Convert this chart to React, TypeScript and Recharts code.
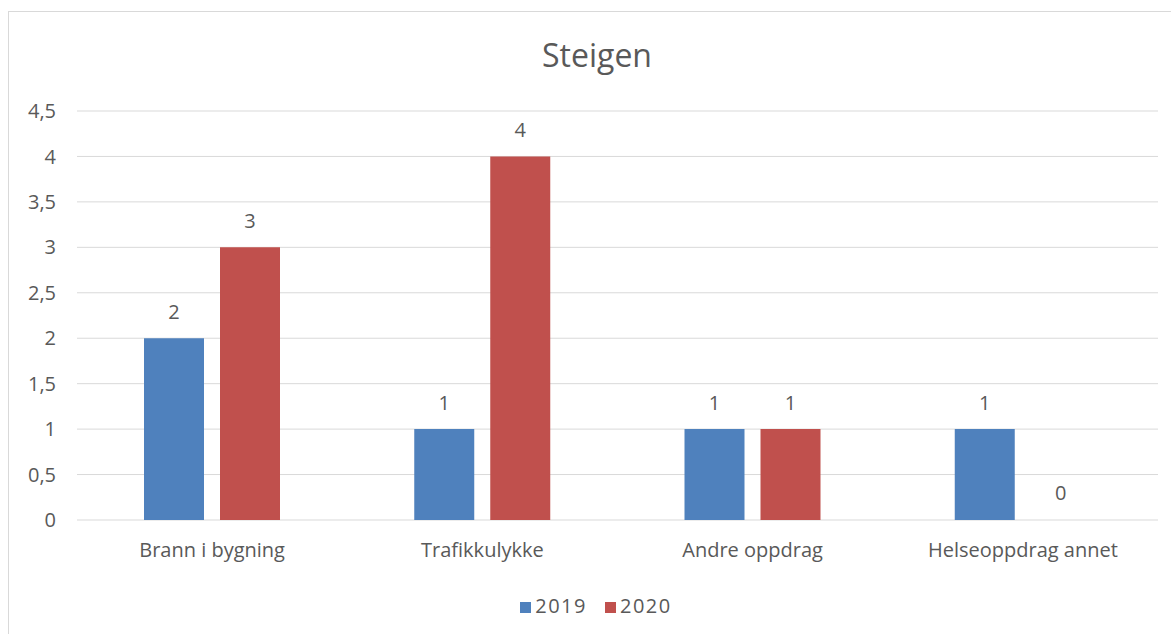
import { BarChart, Bar, XAxis, YAxis, CartesianGrid, Legend, LabelList, Rectangle } from 'recharts';

const categories = ['Brann i bygning', 'Trafikkulykke', 'Andre oppdrag', 'Helseoppdrag annet'];
const values2019 = [2, 1, 1, 1];
const values2020 = [3, 4, 1, 0];
const yTicks = [0, 0.5, 1, 1.5, 2, 2.5, 3, 3.5, 4, 4.5];

const BLUE = '#4F81BD';
const RED = '#C0504D';
const TEXT = '#595959';
const FONT = '"Open Sans", "Noto Sans", sans-serif';

const BOX_W = 1176;
const W = 1149;
const H = 630;
const M = { top: 99, right: 0, left: 8, bottom: 23 };
const Y_W = 60;

const data = categories.map((name, i) => ({
  name,
  y2019: values2019[i],
  y2020: values2020[i],
}));

// bars with value 0 get a 1px placeholder so the "0" label still shows, but nothing is drawn
const BarShape = (props: any) => (props.height <= 1 ? <g /> : <Rectangle {...props} />);

export default function App() {
  return (
    <div
      style={{
        position: 'absolute',
        left: 8,
        top: 11,
        width: BOX_W,
        height: 640,
        border: '1px solid #d9d9d9',
        background: '#fff',
        fontFamily: FONT,
      }}
    >
      <div
        style={{
          position: 'absolute',
          top: 21,
          left: 0,
          width: BOX_W,
          textAlign: 'center',
          fontSize: 32,
          color: TEXT,
        }}
      >
        Steigen
      </div>
      <BarChart width={W} height={H} data={data} margin={M} barSize={60} barGap={16}>
        <CartesianGrid vertical={false} stroke="#d9d9d9" />
        <XAxis
          dataKey="name"
          axisLine={false}
          tickLine={false}
          tickMargin={17}
          height={72}
          tick={{ fill: TEXT, fontSize: 20, fontFamily: FONT }}
        />
        <YAxis
          domain={[0, 4.5]}
          ticks={yTicks}
          axisLine={false}
          tickLine={false}
          width={Y_W}
          tickMargin={15}
          tick={{ fill: TEXT, fontSize: 20, fontFamily: FONT }}
          tickFormatter={(v: number) => String(v).replace('.', ',')}
        />
        <Legend
          iconType="square"
          iconSize={11}
          wrapperStyle={{ fontSize: 20, fontFamily: FONT, color: TEXT, left: 36, width: 1120 }}
          formatter={(value: string) => (
            <span style={{ color: TEXT, letterSpacing: 1.5, paddingRight: 8 }}>{value}</span>
          )}
        />
        <Bar dataKey="y2019" name="2019" fill={BLUE} isAnimationActive={false} minPointSize={1} shape={BarShape}>
          <LabelList dataKey="y2019" position="top" offset={19} fill={TEXT} fontSize={20} fontFamily={FONT} />
        </Bar>
        <Bar dataKey="y2020" name="2020" fill={RED} isAnimationActive={false} minPointSize={1} shape={BarShape}>
          <LabelList dataKey="y2020" position="top" offset={19} fill={TEXT} fontSize={20} fontFamily={FONT} />
        </Bar>
      </BarChart>
    </div>
  );
}
